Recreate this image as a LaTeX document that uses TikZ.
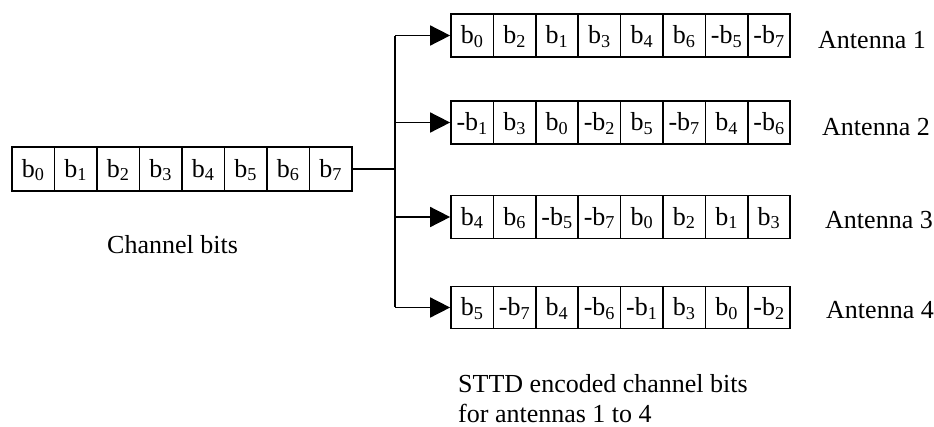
\documentclass[tikz,border=0pt]{standalone}
\usepackage{fontspec}
\setmainfont{Liberation Serif}
\usetikzlibrary{arrows.meta}
\begin{document}
\begin{tikzpicture}[x=1pt,y=-1pt,
  cell/.style={draw,line width=1.6pt,minimum width=42.5pt,minimum height=43pt,
    inner sep=0pt,text height=18pt,text depth=2pt,font=\fontsize{26}{30}\selectfont},
  lbl/.style={inner sep=0pt,anchor=base west,font=\fontsize{26}{30}\selectfont},
  wire/.style={line width=1.6pt},
  feed/.style={line width=1.6pt,-{Triangle[length=20pt,width=20pt]}}]
\useasboundingbox (0,0) rectangle (934,426);
% input row
\foreach \t [count=\i from 0] in {0,1,2,3,4,5,6,7}
  \node[cell,minimum height=44pt] (L\i) at (12+21.25+42.5*\i,169) {b\textsubscript{\t}};
% antenna rows
\foreach \t [count=\i from 0] in {b\textsubscript{0},b\textsubscript{2},b\textsubscript{1},b\textsubscript{3},b\textsubscript{4},b\textsubscript{6},-b\textsubscript{5},-b\textsubscript{7}}
  \node[cell] (A1c\i) at (451+21.2+42.4*\i,35.5) {\t};
\foreach \t [count=\i from 0] in {-b\textsubscript{1},b\textsubscript{3},b\textsubscript{0},-b\textsubscript{2},b\textsubscript{5},-b\textsubscript{7},b\textsubscript{4},-b\textsubscript{6}}
  \node[cell] (A2c\i) at (451+21.2+42.4*\i,122.5) {\t};
\foreach \t [count=\i from 0] in {b\textsubscript{4},b\textsubscript{6},-b\textsubscript{5},-b\textsubscript{7},b\textsubscript{0},b\textsubscript{2},b\textsubscript{1},b\textsubscript{3}}
  \node[cell] (A3c\i) at (451+21.2+42.4*\i,217) {\t};
\foreach \t [count=\i from 0] in {b\textsubscript{5},-b\textsubscript{7},b\textsubscript{4},-b\textsubscript{6},-b\textsubscript{1},b\textsubscript{3},b\textsubscript{0},-b\textsubscript{2}}
  \node[cell,minimum height=42pt] (A4c\i) at (451+21.2+42.4*\i,307.5) {\t};
% bus
\coordinate (bt) at (395,35.5);
\coordinate (bb) at (395,307.5);
\draw[wire] (L7.east) -- (L7.east -| bt);
\draw[wire] ([yshift=-0.8pt]bt) -- ([yshift=0.8pt]bb);
\draw[feed] (bt) -- (A1c0.west);
\draw[feed] (A2c0.west -| bt) -- (A2c0.west);
\draw[feed] (A3c0.west -| bt) -- (A3c0.west);
\draw[feed] (bb) -- (A4c0.west);
% labels
\node[lbl] (ant1) at (818,48) {Antenna 1};
\node[lbl] (ant2) at (822,135) {Antenna 2};
\node[lbl] (ant3) at (825,228) {Antenna 3};
\node[lbl] (ant4) at (826,318) {Antenna 4};
\node[lbl] (chb) at (107,253) {Channel bits};
\node[lbl] (sttd1) at (458,392) {STTD encoded channel bits};
\node[lbl] (sttd2) at (458,422) {for antennas 1 to 4};
\end{tikzpicture}
\end{document}
